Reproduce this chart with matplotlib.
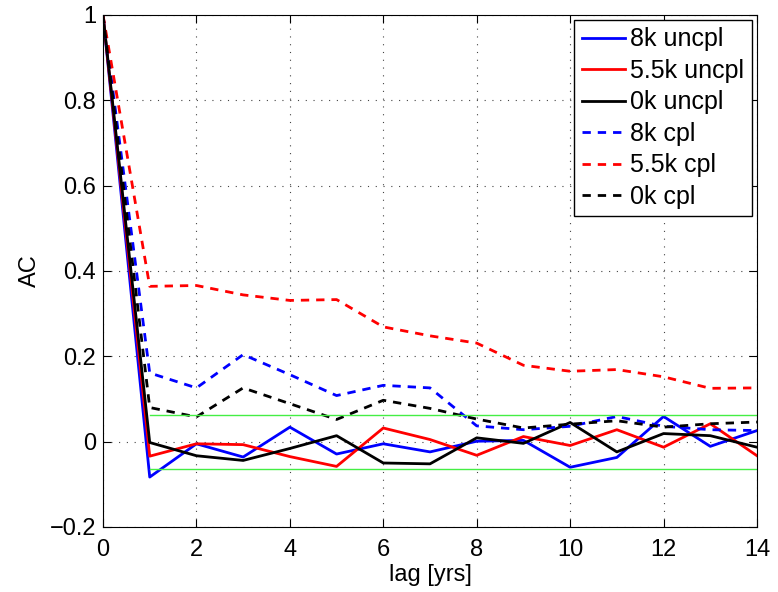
import matplotlib
matplotlib.use("Agg")
import matplotlib.pyplot as plt

plt.rcParams["font.family"] = ["Liberation Sans", "DejaVu Sans"]

lags = list(range(15))
ac_8k_uncpl = [1, -0.083, -0.005, -0.036, 0.034, -0.029, -0.005, -0.024, 0.001, 0.003, -0.060, -0.037, 0.059, -0.011, 0.026]
ac_55k_uncpl = [1, -0.034, -0.005, -0.007, -0.035, -0.058, 0.032, 0.005, -0.032, 0.012, -0.009, 0.028, -0.013, 0.042, -0.033]
ac_0k_uncpl = [1, -0.002, -0.033, -0.044, -0.016, 0.014, -0.050, -0.052, 0.009, -0.004, 0.045, -0.024, 0.019, 0.014, -0.013]
ac_8k_cpl = [1, 0.161, 0.126, 0.204, 0.157, 0.108, 0.132, 0.126, 0.037, 0.028, 0.036, 0.059, 0.036, 0.028, 0.026]
ac_55k_cpl = [1, 0.364, 0.366, 0.344, 0.331, 0.333, 0.269, 0.248, 0.231, 0.179, 0.165, 0.169, 0.152, 0.125, 0.126]
ac_0k_cpl = [1, 0.080, 0.058, 0.126, 0.089, 0.052, 0.097, 0.078, 0.053, 0.032, 0.041, 0.049, 0.034, 0.042, 0.046]
sig_level = 0.0635

fig = plt.figure(figsize=(7.78, 5.92), dpi=100)
ax = fig.add_axes([0.1324, 0.1098, 0.8406, 0.8649])

dash = (0, (3, 2.5))
ax.plot(lags, ac_8k_uncpl, color="#0000ff", lw=2, label="8k uncpl")
ax.plot(lags, ac_55k_uncpl, color="#ff0000", lw=2, label="5.5k uncpl")
ax.plot(lags, ac_0k_uncpl, color="black", lw=2, label="0k uncpl")
ax.plot(lags, ac_8k_cpl, color="#0000ff", lw=2, ls=dash, label="8k cpl")
ax.plot(lags, ac_55k_cpl, color="#ff0000", lw=2, ls=dash, label="5.5k cpl")
ax.plot(lags, ac_0k_cpl, color="black", lw=2, ls=dash, label="0k cpl")
ax.plot([1, 14], [sig_level, sig_level], color="#44ee44", lw=1)
ax.plot([1, 14], [-sig_level, -sig_level], color="#44ee44", lw=1)

ax.set_xlim(0, 14)
ax.set_ylim(-0.2, 1)
ax.set_xticks(range(0, 15, 2))
ax.set_yticks([-0.2, 0, 0.2, 0.4, 0.6, 0.8, 1])
ax.set_yticklabels(["\u22120.2", "0", "0.2", "0.4", "0.6", "0.8", "1"])
ax.tick_params(direction="in", top=True, right=True, labelsize=17, length=6)
ax.tick_params(axis="x", pad=9)
ax.tick_params(axis="y", pad=5)
ax.grid(True, ls=(0, (1, 6)), color="#444444", lw=0.8)
ax.set_xlabel("lag [yrs]", fontsize=17, labelpad=2)
ax.set_ylabel("AC", fontsize=17, labelpad=6)

leg = ax.legend(loc="upper right", fontsize=18, fancybox=False, framealpha=1,
                edgecolor="black", handlelength=1.75, handletextpad=0.2,
                labelspacing=0.3, borderpad=0.3, borderaxespad=0.2)
leg.get_frame().set_linewidth(1)

fig.savefig("out.png", dpi=100)
